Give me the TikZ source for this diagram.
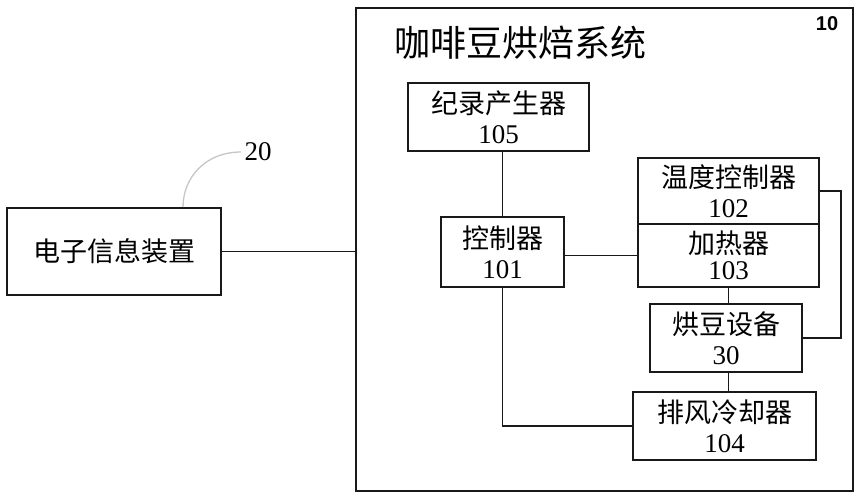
\documentclass[tikz,border=0pt]{standalone}
\usepackage{fontspec}
\setmainfont{Liberation Serif}
\newfontfamily\cjk{Noto Sans CJK SC}
\newfontfamily\numfont{Liberation Sans}

\begin{document}
\begin{tikzpicture}[x=1pt, y=-1pt, align=center,
    blk/.style={draw=black!90, line width=1.9pt, inner sep=0pt},
    wire/.style={draw=black!90, line width=1.9pt},
    txt/.style={font=\fontsize{27}{30}\selectfont}]
  \useasboundingbox (0,0) rectangle (861,500);

  % system frame with its title and number
  \node[blk, minimum width=497pt, minimum height=483pt] (sys) at (604.5,249.5) {};
  \node[font=\numfont\bfseries\fontsize{20}{20}\selectfont] (sysno) at (827,24) {10};
  \node[font=\cjk\fontsize{36}{40}\selectfont] (title) at (520,43) {咖啡豆烘焙系统};

  % boxes
  \node[blk, txt, minimum width=214pt, minimum height=87pt] (dev) at (114,251.5) {{\cjk 电子信息装置}};
  \node[blk, txt, minimum width=181pt, minimum height=68pt] (rec) at (498.5,117) {{\cjk 纪录产生器}\\105};
  \node[blk, txt, minimum width=123pt, minimum height=70pt] (ctl) at (502.5,252) {{\cjk 控制器}\\101};
  \node[blk, txt, minimum width=181pt, minimum height=66pt] (temp) at (728.5,191) {{\cjk 温度控制器}\\102};
  \node[blk, txt, minimum width=181pt, minimum height=63pt] (heat) at (728.5,255.5) {{\cjk 加热器}\\[-4pt]103};
  \node[blk, txt, minimum width=152pt, minimum height=68pt] (bean) at (726,338) {{\cjk 烘豆设备}\\30};
  \node[blk, txt, minimum width=183pt, minimum height=68pt] (fan) at (724.5,426) {{\cjk 排风冷却器}\\104};

  % label 20 with its leader
  \node[font=\fontsize{27}{30}\selectfont] (devno) at (258,152) {20};
  \coordinate (D1) at (183,207);
  \draw[gray!45, line width=1.3pt] (D1) .. controls (183,178) and (205,152) .. (devno.west);

  % connections
  \draw[wire] (dev.east) -- (dev.east -| sys.west);
  \draw[wire] (ctl.north) -- (ctl.north |- rec.south);
  \draw[wire] (heat.west -| ctl.east) -- (heat.west);
  \draw[wire] (heat.south) -- (heat.south |- bean.north);
  \draw[wire] (bean.south -| heat.south) -- (fan.north -| heat.south);
  \draw[wire] (ctl.south) -- (ctl.south |- fan.west) -- (fan.west);
  \draw[wire] (temp.east) -- ++(21,0) |- (bean.east);
\end{tikzpicture}
\end{document}
